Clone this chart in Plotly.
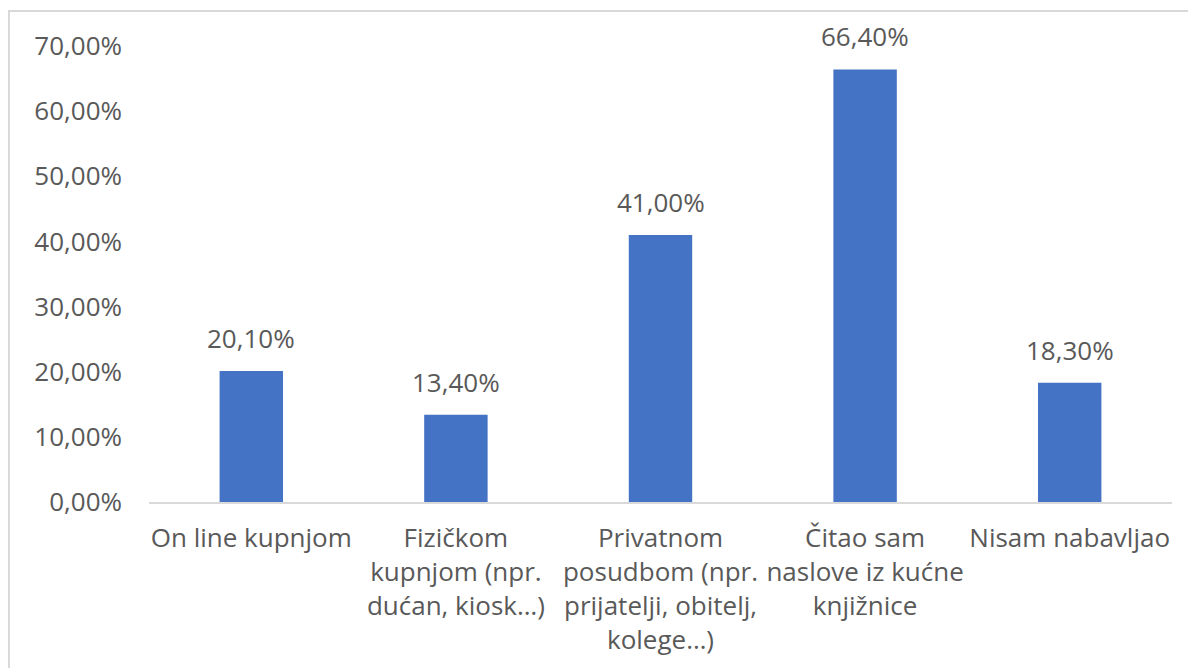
import plotly.graph_objects as go

# categories and shares (fractions)
categories = [
    "On line kupnjom",
    "Fizičkom<br>kupnjom (npr.<br>dućan, kiosk…)",
    "Privatnom<br>posudbom (npr.<br>prijatelji, obitelj,<br>kolege…)",
    "Čitao sam<br>naslove iz kućne<br>knjižnice",
    "Nisam nabavljao",
]
values = [0.201, 0.134, 0.410, 0.664, 0.183]
y_ticks = [0, 0.1, 0.2, 0.3, 0.4, 0.5, 0.6, 0.7]

BAR = "#4472C4"
TXT = "#595959"
GRID = "#D9D9D9"
FONT = "Open Sans"
FS = 26

fig = go.Figure()
fig.add_trace(go.Bar(
    x=categories, y=values,
    marker=dict(color=BAR, line=dict(width=0)),
    hoverinfo="skip",
))

# value labels above bars
for c, v in zip(categories, values):
    fig.add_annotation(
        x=c, y=v, text=f"{v*100:.2f}".replace(".", ",") + "%",
        showarrow=False, yanchor="bottom", yshift=13,
        font=dict(family=FONT, size=FS, color=TXT),
    )

# chart border (only top/left visible in the crop)
fig.add_shape(type="rect", xref="paper", yref="paper",
              x0=-0.1369, x1=1.2, y0=-0.6, y1=1.0768,
              line=dict(color=GRID, width=2), layer="below")

# page body has an 8px margin, so the figure is sized/offset to compensate
fig.update_layout(
    width=1188, height=660,
    margin=dict(l=141, r=24, t=38, b=166),
    paper_bgcolor="white", plot_bgcolor="white",
    separators=",.",
    bargap=0.69,
    showlegend=False,
    font=dict(family=FONT, size=FS, color=TXT),
    xaxis=dict(showline=True, linecolor=GRID, linewidth=2, ticks="",
               showgrid=False, ticklabelstandoff=12, automargin=False,
               tickfont=dict(family=FONT, size=FS, color=TXT)),
    yaxis=dict(range=[0, 0.7], tickvals=y_ticks, tickformat=".2%",
               showgrid=False, zeroline=False, showline=False, ticks="",
               ticklabelstandoff=26, automargin=False,
               tickfont=dict(family=FONT, size=FS, color=TXT)),
)

fig.write_html("out.html")
